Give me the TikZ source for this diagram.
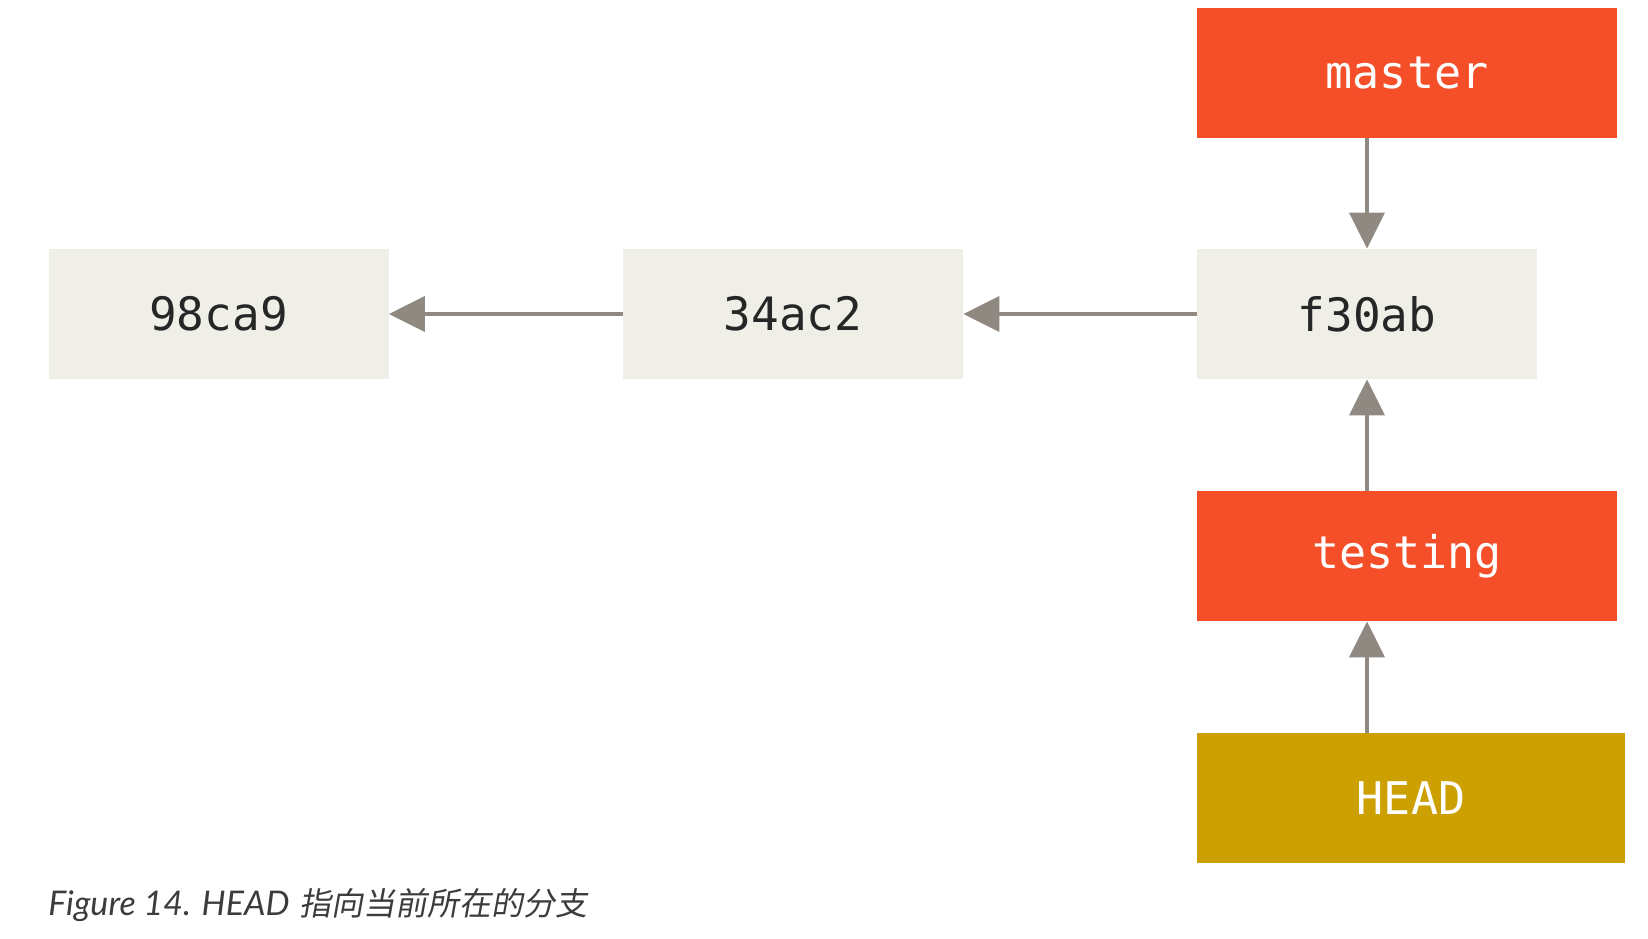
\documentclass[tikz,border=0pt]{standalone}
\usepackage{fontspec}
\setmonofont{DejaVu Sans Mono}
\newfontfamily\capfont{Lato}
\newfontfamily\cjkfont[FakeSlant=0.18]{Noto Sans CJK SC}
\usetikzlibrary{arrows.meta}

\definecolor{commitfill}{RGB}{239,238,231}
\definecolor{branchfill}{RGB}{244,79,41}
\definecolor{headfill}{RGB}{204,160,0}
\definecolor{arrowgray}{RGB}{143,137,129}
\definecolor{captiongray}{RGB}{60,60,60}

\tikzset{
  commit/.style = {
    fill = commitfill,
    inner sep = 0pt,
    minimum width = 170pt,
    minimum height = 65pt,
    font = \ttfamily\fontsize{23}{27}\selectfont,
    text = black!85
  },
  branch/.style = {
    commit,
    fill = branchfill,
    minimum width = 210pt,
    font = \ttfamily\fontsize{22.5}{27}\selectfont,
    text = white
  },
  headbox/.style = {
    branch,
    fill = headfill,
    minimum width = 214pt
  },
  pointer/.style = {
    draw = arrowgray,
    line width = 2pt,
    -{Triangle[length = 18pt, width = 17.5pt]}
  }
}

\begin{document}
\begin{tikzpicture}[x = 0.5pt, y = -0.5pt]
  \useasboundingbox (0,0) rectangle (1648,938);

  % The three commits
  \node[commit] (c98ca9) at (218.5,314) {98ca9};
  \node[commit] (c34ac2) at (793,314)   {34ac2};
  \node[commit] (cf30ab) at (1367,314)  {f30ab};

  % The branches and HEAD
  \node[branch]  (master)  at (1407,73)  {master};
  \node[branch]  (testing) at (1407,556) {testing};
  \node[headbox] (head)    at (1411,798) {HEAD};

  % The arrows
  \draw[pointer] (c34ac2.west) -- (c98ca9.east);
  \draw[pointer] (cf30ab.west) -- (c34ac2.east);
  \draw[pointer] (master.south -| cf30ab) -- (cf30ab.north);
  \draw[pointer] (testing.north -| cf30ab) -- (cf30ab.south);
  \draw[pointer] (head.north -| cf30ab) -- (testing.south -| cf30ab);

  % The caption
  \node[anchor = base west, inner sep = 0pt, text = captiongray,
        font = \fontsize{17}{21}\selectfont] (caption) at (48,915)
    {{\capfont\itshape Figure 14. HEAD} {\cjkfont\fontsize{16}{20}\selectfont 指向当前所在的分支}};
\end{tikzpicture}
\end{document}
